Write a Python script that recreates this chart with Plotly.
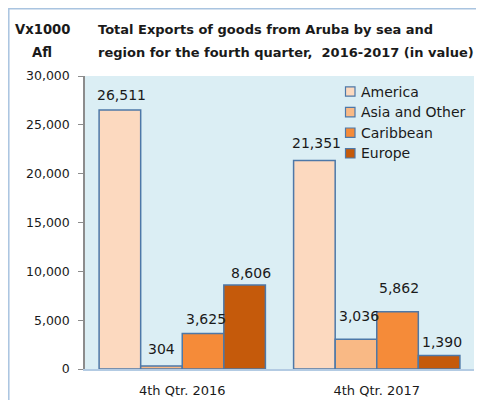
import plotly.graph_objects as go

categories = ["4th Qtr. 2016", "4th Qtr. 2017"]
series_names = ["America", "Asia and Other", "Caribbean", "Europe"]
america = [26511, 21351]
asia_other = [304, 3036]
caribbean = [3625, 5862]
europe = [8606, 1390]
y_tickvals = [0, 5000, 10000, 15000, 20000, 25000, 30000]
y_ticktext = ["0", "5,000", "10,000", "15,000", "20,000", "25,000", "30,000"]

values = [america, asia_other, caribbean, europe]
colors = ["#fcd9bf", "#f9b985", "#f58b39", "#c55a0b"]
outline = "#4d78a8"
font = "DejaVu Sans, sans-serif"
txt = "#1a1a1a"

# figure geometry (page body has an 8px margin)
W, H = 476, 392
ML, MR, MT, MB = 77, 10, 68, 31
PW, PH = W - ML - MR, H - MT - MB


def px(xp):
    return (xp - ML) / PW


def py(yp):
    return (H - MB - yp) / PH


fig = go.Figure()
for name, vals, col in zip(series_names, values, colors):
    fig.add_trace(go.Bar(
        x=categories, y=vals, name=name, showlegend=False,
        marker=dict(color=col, line=dict(color=outline, width=1.5)),
    ))

# data labels
bar_xshift = [-62.5, -20.8, 20.8, 62.5]
label_dx = [[1.5, 2], [0, 3], [2.5, 1.5], [6, 3]]
label_dy = [[15, 17.5], [17.5, 23], [15, 24], [12, 13.5]]
annotations = []
for si, vals in enumerate(values):
    for ci, v in enumerate(vals):
        annotations.append(dict(
            x=categories[ci], y=v, xref="x", yref="y",
            text=f"{v:,}", showarrow=False, yanchor="middle",
            xshift=bar_xshift[si] + label_dx[si][ci], yshift=label_dy[si][ci],
            font=dict(family=font, size=14, color=txt),
        ))

# titles
title_lines = ["Total Exports of goods from Aruba by sea and",
               "region for the fourth quarter,  2016-2017 (in value)"]
unit_lines = ["Vx1000", "Afl"]
for i, (t, u) in enumerate(zip(title_lines, unit_lines)):
    yy = py(21.5 + 22.7 * i)
    annotations.append(dict(x=px(87.5), y=yy, xref="paper", yref="paper",
                            text=f"<b>{t}</b>", showarrow=False, xanchor="left",
                            yanchor="middle", font=dict(family=font, size=13, color=txt)))
    annotations.append(dict(x=px(34), y=yy, xref="paper", yref="paper",
                            text=f"<b>{u}</b>", showarrow=False, xanchor="center",
                            yanchor="middle", font=dict(family=font, size=13.2, color=txt)))

# custom legend
shapes = []
for i, (name, col) in enumerate(zip(series_names, colors)):
    cy = 83.5 + 20.6 * i
    shapes.append(dict(type="rect", xref="paper", yref="paper",
                       x0=px(337.5), x1=px(347), y0=py(cy + 4.7), y1=py(cy - 4.7),
                       fillcolor=col, line=dict(color=outline, width=1.2)))
    annotations.append(dict(x=px(351), y=py(cy), xref="paper", yref="paper",
                            text=name, showarrow=False, xanchor="left", yanchor="middle",
                            font=dict(family=font, size=14, color=txt)))

# outer chart border
shapes.append(dict(type="rect", xref="paper", yref="paper",
                   x0=px(0.8), x1=px(W + 20), y0=py(H + 20), y1=py(0.8),
                   line=dict(color="#a9c4e0", width=1.5), fillcolor="rgba(0,0,0,0)",
                   layer="below"))

fig.update_layout(
    width=W, height=H,
    margin=dict(l=ML, r=MR, t=MT, b=MB, autoexpand=False),
    paper_bgcolor="white", plot_bgcolor="#dbeef4",
    barmode="group", bargap=0.145, bargroupgap=0,
    font=dict(family=font, size=13, color=txt),
    showlegend=False,
    annotations=annotations,
    shapes=shapes,
    xaxis=dict(showline=True, linecolor="#b3cbe3", linewidth=1.5, ticks="",
               ticklabelstandoff=9,
               tickfont=dict(family=font, size=13, color=txt)),
    yaxis=dict(range=[0, 30000], tickvals=y_tickvals, ticktext=y_ticktext,
               showgrid=False, zeroline=False, showline=True, linecolor="#8c8c8c",
               linewidth=1.5, ticks="outside", ticklen=5, tickcolor="#8c8c8c",
               ticklabelstandoff=6,
               tickfont=dict(family=font, size=12.5, color=txt)),
)

fig.write_html("out.html")
